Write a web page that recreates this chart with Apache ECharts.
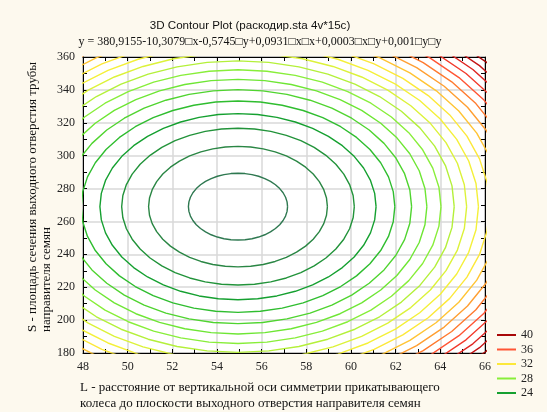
<!DOCTYPE html>
<html><head><meta charset="utf-8">
<script src="https://cdn.jsdelivr.net/npm/echarts@6/dist/echarts.min.js"></script>
<style>html,body{margin:0;padding:0;background:#fdf9ee;}#c{width:547px;height:412px;}</style>
</head><body><div id="c"></div>
<script>
// ---- texts ----
const titleText = '3D Contour Plot (раскодир.sta 4v*15c)';
const equationText = 'y = 380,9155-10,3079\u25A1x-0,5745\u25A1y+0,0931\u25A1x\u25A1x+0,0003\u25A1x\u25A1y+0,001\u25A1y\u25A1y';
const xAxisTitle = ['L - расстояние от вертикальной оси симметрии прикатывающего', 'колеса до плоскости выходного отверстия направителя семян'];
const yAxisTitle = ['S - площадь сечения выходного отверстия трубы', 'направителя семян'];

// ---- axes ----
const xRange = [48, 66];
const xStep = 2;
const yRange = [180, 360];
const yStep = 20;

// ---- contour data ----
const contourLevels = [21, 22, 23, 24, 25, 26, 27, 28, 29, 30, 31, 32, 33, 34, 35, 36, 37, 38, 39, 40];
const legendLevels = [40, 36, 32, 28, 24];
const surfaceCenterL = 54.94;     // L at the minimum of the surface
const surfaceCenterS = 269.0;     // S at the minimum of the surface
const surfaceMinimum = 20.556;    // value at the minimum
const spreadL = 11.1;             // L-units^2 per contour step
const spreadS = 930;              // S-units^2 per contour step

// ---- styles ----
const levelColors = ['#2e7850', '#2a8644', '#22933a', '#15a030', '#2fbd2f', '#4fd42f', '#6ee634', '#88ee3a', '#b4f03a', '#dcf23a',
  '#f4f03a', '#fce83a', '#ffc434', '#ff9f32', '#ff7a30', '#ff5535', '#f23a2c', '#de2622', '#c41616', '#a80808'];

function contourPoints(level) {
  const d = level - surfaceMinimum;
  const rl = Math.sqrt(d * spreadL), rs = Math.sqrt(d * spreadS);
  const pts = [];
  const n = 44;
  for (let i = 0; i <= n; i++) {
    const t = 2 * Math.PI * i / n;
    pts.push([surfaceCenterL + rl * Math.cos(t), surfaceCenterS + rs * Math.sin(t)]);
  }
  return pts;
}

const serif = 'Liberation Serif';
const sans = 'Liberation Sans';

const series = contourLevels.map((lv, i) => ({
  name: String(lv),
  type: 'line',
  data: contourPoints(lv),
  showSymbol: false,
  symbol: 'none',
  smooth: false,
  clip: true,
  silent: true,
  animation: false,
  lineStyle: { color: levelColors[i], width: 1.4 },
  itemStyle: { color: levelColors[i] }
}));

function axisBase(min, max, step, pos, main) {
  return {
    type: 'value', min: min, max: max, interval: step, position: pos,
    axisLine: { show: true, onZero: false, lineStyle: { color: '#000', width: 1 } },
    axisTick: { show: true, inside: true, length: 4, lineStyle: { color: '#000' } },
    minorTick: { show: true, splitNumber: 2, length: 4, lineStyle: { color: '#000' } },
    axisLabel: { show: main, fontFamily: serif, fontSize: 12, color: '#222', margin: 8 },
    splitLine: { show: main, lineStyle: { color: '#d8d8d8', width: 1.5 } }
  };
}

const chart = echarts.init(document.getElementById('c'), null, { renderer: 'canvas' });
chart.setOption({
  backgroundColor: '#fdf9ee',
  animation: false,
  title: [
    { text: titleText, left: 250, top: 20, textAlign: 'center', padding: 0,
      textStyle: { fontFamily: sans, fontSize: 11.6, fontWeight: 'normal', color: '#111' } },
    { text: equationText, left: 260, top: 36, textAlign: 'center', padding: 0,
      textStyle: { fontFamily: serif, fontSize: 12, fontWeight: 'normal', color: '#111' } }
  ],
  grid: { left: 83, right: 62, top: 57, bottom: 59, show: true, backgroundColor: '#ffffff', borderColor: '#000', borderWidth: 1 },
  xAxis: [axisBase(xRange[0], xRange[1], xStep, 'bottom', true), axisBase(xRange[0], xRange[1], xStep, 'top', false)],
  yAxis: [axisBase(yRange[0], yRange[1], yStep, 'left', true), axisBase(yRange[0], yRange[1], yStep, 'right', false)],
  legend: {
    data: legendLevels.map(String),
    orient: 'vertical', left: 497, top: 329, padding: 0,
    icon: 'rect', itemWidth: 19, itemHeight: 2, itemGap: 2.5,
    selectedMode: false,
    textStyle: { fontFamily: serif, fontSize: 12, lineHeight: 12, color: '#222' }
  },
  graphic: [
    { type: 'text', left: 80, top: 380, silent: true,
      style: { text: xAxisTitle.join('\n'), font: '13px "Liberation Serif"', lineHeight: 16, fill: '#111' } },
    { type: 'text', x: 26, y: 332, rotation: Math.PI / 2, silent: true,
      style: { text: yAxisTitle.join('\n'), font: '13px "Liberation Serif"', lineHeight: 14, fill: '#111', align: 'left', verticalAlign: 'top' } }
  ],
  series: series
});
</script></body></html>
